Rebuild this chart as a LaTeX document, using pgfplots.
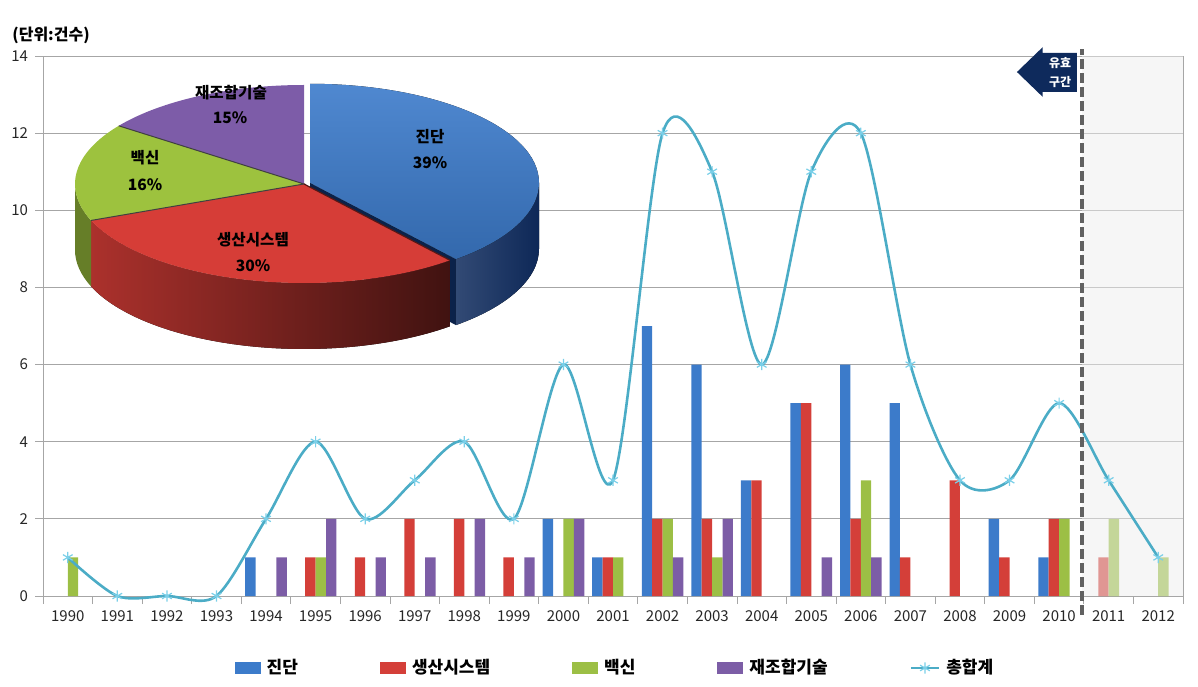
\documentclass[border=0pt]{standalone}
\usepackage{fontspec}
\setmainfont{Noto Sans CJK KR}
\usepackage{pgfplots}
\pgfplotsset{compat=1.18}

\definecolor{cblue}{HTML}{3C7BCA}
\definecolor{cred}{HTML}{D43F39}
\definecolor{cgreen}{HTML}{9CBF45}
\definecolor{cpurple}{HTML}{7C5DA6}
\definecolor{cline}{HTML}{4BACC6}
\definecolor{cmark}{HTML}{7ACFE8}
\definecolor{navy}{HTML}{0E2A5C}
% pie colours
\definecolor{ptblue}{HTML}{3C7BCB}
\definecolor{ptred}{HTML}{D63D37}
\definecolor{ptgreen}{HTML}{9DC23E}
\definecolor{ptpurple}{HTML}{7D5CA8}

\pgfplotsset{
  barlegend/.style={legend image code/.code={\path[##1,draw=none] (0pt,-3pt) rectangle (13pt,3pt);}},
  linelegend/.style={legend image code/.code={\draw[mark repeat=2,mark phase=2,##1] plot coordinates {(0pt,0pt) (7pt,0pt) (14pt,0pt)};}},
}

\begin{document}
\begin{tikzpicture}
\path[use as bounding box] (-21.5pt,-45pt) rectangle (577.5pt,298pt);
\begin{axis}[
  scale only axis, width=570pt, height=270pt,
  xmin=1989.5, xmax=2012.5, ymin=0, ymax=14,
  clip=false,
  ybar=0pt, bar width=0.21,
  ytick={0,2,...,14},
  xtick={1989.5,1990.5,...,2012.5}, xticklabels={},
  extra x ticks={1990,1991,...,2012},
  extra x tick labels={1990,1991,1992,1993,1994,1995,1996,1997,1998,1999,2000,2001,2002,2003,2004,2005,2006,2007,2008,2009,2010,2011,2012},
  extra x tick style={major tick length=0pt},
  tick align=outside, major tick length=4pt,
  xtick pos=bottom, ytick pos=left,
  axis line style={gray!70},
  tick style={gray!70, line width=0.4pt},
  ymajorgrids, major grid style={gray!70, line width=0.4pt},
  ticklabel style={font=\fontsize{7.5}{9}\selectfont, text=black!85},
  xticklabel style={yshift=-4pt},
  /pgf/number format/assume math mode=true,
  legend columns=-1,
  legend cell align=left,
  legend style={at={(0.5026,-0.1333)}, anchor=center, draw=none, fill=none,
    font=\bfseries\fontsize{8.5}{10}\selectfont,
    /tikz/every even column/.append style={column sep=39pt},
    /tikz/every odd column/.append style={column sep=1pt}},
]
% 진단
\addplot[draw=none, barlegend, fill=cblue] coordinates {
  (1994,1) (2000,2) (2001,1) (2002,7) (2003,6) (2004,3) (2005,5) (2006,6) (2007,5) (2009,2) (2010,1)};
% 생산시스템
\addplot[draw=none, barlegend, fill=cred] coordinates {
  (1995,1) (1996,1) (1997,2) (1998,2) (1999,1) (2001,1) (2002,2) (2003,2) (2004,3) (2005,5) (2006,2)
  (2007,1) (2008,3) (2009,1) (2010,2) (2011,1)};
% 백신
\addplot[draw=none, barlegend, fill=cgreen] coordinates {
  (1990,1) (1995,1) (2000,2) (2001,1) (2002,2) (2003,1) (2006,3) (2010,2) (2011,2) (2012,1)};
% 재조합기술
\addplot[draw=none, barlegend, fill=cpurple] coordinates {
  (1994,1) (1995,2) (1996,1) (1997,1) (1998,2) (1999,1) (2000,2) (2002,1) (2003,2) (2005,1) (2006,1)};
% shaded period after 2010
\fill[white!86!gray, opacity=0.5] (axis cs:2010.46,0) rectangle (axis cs:2012.5,14);
% 총합계
\addplot[linelegend, smooth, tension=0.5, color=cline, line width=1.3pt,
  mark=asterisk, mark size=2.8pt, mark options={color=cmark, line width=0.6pt, solid}] coordinates {
  (1990,1) (1991,0) (1992,0) (1993,0) (1994,2) (1995,4) (1996,2) (1997,3) (1998,4) (1999,2) (2000,6)
  (2001,3) (2002,12) (2003,11) (2004,6) (2005,11) (2006,12) (2007,6) (2008,3) (2009,3) (2010,5)
  (2011,3) (2012,1)};
\legend{진단,생산시스템,백신,재조합기술,총합계}
% boundary of the valid period
\draw[black!62, line width=2pt, dash pattern=on 5pt off 2pt] (axis cs:2010.46,-0.49) -- (axis cs:2010.46,14.18);
\fill[navy] (axis cs:2009.15,13.585) -- (axis cs:2009.67,14.23) -- (axis cs:2009.67,14.08)
  -- (axis cs:2010.36,14.08) -- (axis cs:2010.36,13.07) -- (axis cs:2009.67,13.07)
  -- (axis cs:2009.67,12.94) -- cycle;
\node[text=white, font=\bfseries\fontsize{6}{7}\selectfont, inner sep=0pt] at (axis cs:2010.02,13.82) {유효};
\node[text=white, font=\bfseries\fontsize{6}{7}\selectfont, inner sep=0pt] at (axis cs:2010.02,13.33) {구간};
\end{axis}

\node[font=\bfseries\fontsize{8}{10}\selectfont, anchor=west, inner sep=0pt] at (-15.5pt,280.5pt) {(단위:건수)};

% inset pie: shares in percent
\def\pA{39}\def\pB{30}\def\pC{16}\def\pD{15}
\pgfmathsetmacro\aA{90-3.6*\pA}
\pgfmathsetmacro\aB{\aA-3.6*\pB}
\pgfmathsetmacro\aC{\aB-3.6*\pC}
\pgfmathsetmacro\aD{\aC-3.6*\pD}
\begin{scope}[shift={(130.5pt,206pt)}, x radius=114.5pt, y radius=49.5pt]
  % exploded 진단 slice: radial face and rim
  \begin{scope}[shift={(3pt,0.6pt)}]
    \fill[navy!80!black] (0,0) -- (\aA:114.5pt and 49.5pt) -- ++(0,-33pt) -- (0,-33pt) -- cycle;
    \fill[left color=navy!85, right color=navy!95!black]
      (\aA:114.5pt and 49.5pt) arc[start angle=\aA, end angle=0]
      -- ++(0,-33pt) arc[start angle=0, end angle=\aA] -- cycle;
  \end{scope}
  % 생산시스템 rim
  \fill[left color=ptred!80!black, right color=ptred!30!black]
    (\aB:114.5pt and 49.5pt) arc[start angle=\aB, end angle=\aA]
    -- ++(0,-33pt) arc[start angle=\aA, end angle=\aB] -- cycle;
  % 백신 rim
  \fill[ptgreen!65!black]
    (-180:114.5pt and 49.5pt) arc[start angle=-180, end angle=\aB]
    -- ++(0,-33pt) arc[start angle=\aB, end angle=-180] -- cycle;
  % tops
  \begin{scope}[shift={(3pt,0.6pt)}]
    \fill[top color=ptblue!90!white, bottom color=ptblue!85!black]
      (0,0) -- (90:114.5pt and 49.5pt) arc[start angle=90, end angle=\aA] -- cycle;
  \end{scope}
  \fill[ptred] (0,0) -- (\aA:114.5pt and 49.5pt) arc[start angle=\aA, end angle=\aB] -- cycle;
  \fill[ptgreen] (0,0) -- (\aB:114.5pt and 49.5pt) arc[start angle=\aB, end angle=\aC] -- cycle;
  \fill[ptpurple] (0,0) -- (\aC:114.5pt and 49.5pt) arc[start angle=\aC, end angle=\aD] -- cycle;
  \draw[black!75, line width=0.5pt] (\aB:114.5pt and 49.5pt) -- (0,0) -- (\aC:114.5pt and 49.5pt);
  \draw[ptred!40!black, line width=0.6pt] (0,0) -- (\aA:114.5pt and 49.5pt);
\end{scope}
\begin{scope}[font=\bfseries\fontsize{7.8}{9}\selectfont, inner sep=0pt]
  \node at (94pt,251.5pt) {재조합기술};
  \node at (93.5pt,239pt) {15\%};
  \node at (51pt,219pt) {백신};
  \node at (51pt,205.5pt) {16\%};
  \node at (193.5pt,229.5pt) {진단};
  \node at (193.5pt,216.5pt) {39\%};
  \node at (105pt,178pt) {생산시스템};
  \node at (105pt,165pt) {30\%};
\end{scope}
\end{tikzpicture}
\end{document}
